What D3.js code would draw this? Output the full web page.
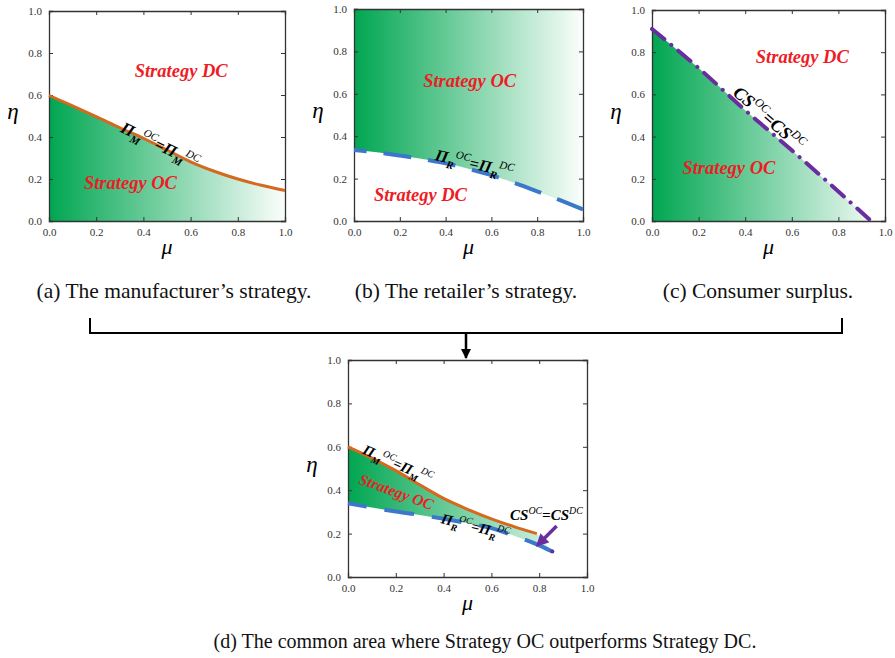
<!DOCTYPE html>
<html>
<head>
<meta charset="utf-8">
<script src="https://cdn.jsdelivr.net/npm/d3@7"></script>
<style>
  body { margin: 0; background: #fff; }
  text { font-family: "Liberation Serif", "Times New Roman", serif; }
</style>
</head>
<body>
<div id="chart"></div>
<script>
// values
const ticks = [0, 0.2, 0.4, 0.6, 0.8, 1.0];

// (a) manufacturer threshold
const muA = [0, 0.1, 0.2, 0.3, 0.4, 0.5, 0.6, 0.7, 0.8, 0.9, 1.0];
const etaM = [0.598, 0.548, 0.497, 0.444, 0.394, 0.338, 0.282, 0.237, 0.200, 0.170, 0.145];

// (b) retailer threshold
const muB = [0, 0.1, 0.2, 0.3, 0.4, 0.5, 0.6, 0.7, 0.8, 0.9, 1.0];
const etaR = [0.335, 0.324, 0.309, 0.292, 0.272, 0.246, 0.216, 0.180, 0.140, 0.098, 0.055];

// (c) consumer surplus threshold
const muC = [0, 0.2, 0.4, 0.6, 0.8, 0.94];
const etaCS = [0.91, 0.725, 0.525, 0.335, 0.14, 0];

// (d) common area
const muDM = [0, 0.1, 0.2, 0.3, 0.4, 0.5, 0.6, 0.7, 0.79];
const etaDM = [0.600, 0.548, 0.490, 0.425, 0.362, 0.312, 0.268, 0.230, 0.200];
const muDR = [0, 0.1, 0.2, 0.3, 0.4, 0.5, 0.6, 0.7, 0.8, 0.855];
const etaDR = [0.340, 0.320, 0.302, 0.286, 0.268, 0.248, 0.225, 0.188, 0.146, 0.117];
const csArrow = [[0.873, 0.235], [0.805, 0.160]];

const captions = [
  "(a) The manufacturer\u2019s strategy.",
  "(b) The retailer\u2019s strategy.",
  "(c) Consumer surplus.",
  "(d) The common area where Strategy OC outperforms Strategy DC."
];

const GREEN = "#00a651", ORANGE = "#d4691f", BLUE = "#3b78cc", PURPLE = "#6a2d9f", RED = "#ee1c25";

const svg = d3.select("#chart").append("svg")
    .attr("width", 895)
    .attr("height", 658);

const defs = svg.append("defs");

function makePanel(id, box) {
  const x = d3.scaleLinear().domain([0, 1]).range([box.left, box.right]);
  const y = d3.scaleLinear().domain([0, 1]).range([box.bottom, box.top]);

  const grad = defs.append("linearGradient")
      .attr("id", "grad-" + id)
      .attr("gradientUnits", "userSpaceOnUse")
      .attr("x1", x(0)).attr("x2", x(1))
      .attr("y1", 0).attr("y2", 0);
  grad.append("stop").attr("offset", "0%").attr("stop-color", GREEN);
  grad.append("stop").attr("offset", "100%").attr("stop-color", "#fbfefc");

  const g = svg.append("g").attr("class", "panel-" + id);
  defs.append("clipPath").attr("id", "clip-" + id)
    .append("rect")
      .attr("x", box.left).attr("y", box.top)
      .attr("width", box.right - box.left).attr("height", box.bottom - box.top);
  const plot = g.append("g").attr("clip-path", "url(#clip-" + id + ")");
  return { x, y, g, plot, box, fill: "url(#grad-" + id + ")" };
}

function frame(p) {
  const { x, y, g, box } = p;
  // inward ticks on all four sides
  g.append("g").attr("transform", "translate(0," + box.bottom + ")")
    .call(d3.axisBottom(x).tickValues(ticks).tickSize(-4).tickPadding(7).tickFormat(d3.format(".1f")));
  g.append("g").attr("transform", "translate(" + box.left + ",0)")
    .call(d3.axisLeft(y).tickValues(ticks).tickSize(-4).tickPadding(7).tickFormat(d3.format(".1f")));
  g.append("g").attr("transform", "translate(0," + box.top + ")")
    .call(d3.axisTop(x).tickValues(ticks).tickSize(-4).tickFormat(""));
  g.append("g").attr("transform", "translate(" + box.right + ",0)")
    .call(d3.axisRight(y).tickValues(ticks).tickSize(-4).tickFormat(""));
  g.selectAll(".domain").attr("stroke", "#333").attr("stroke-width", 1.3);
  g.selectAll(".tick line").attr("stroke", "#333");
  g.selectAll(".tick text")
    .attr("font-size", 11)
    .attr("fill", "#333");

  g.append("text")
    .attr("x", (box.left + box.right) / 2)
    .attr("y", box.bottom + 33)
    .attr("text-anchor", "middle")
    .attr("font-style", "italic")
    .attr("font-size", 22)
    .text("\u03bc");
  g.append("text")
    .attr("x", box.left - 36)
    .attr("y", (box.top + box.bottom) / 2 + 3)
    .attr("text-anchor", "middle")
    .attr("font-style", "italic")
    .attr("font-size", 23)
    .text("\u03b7");
}

// dashed line whose pattern ends on a full dash, as in the figure
function dashedCurve(p, pts, dash, gap, curve) {
  const path = p.g.append("path")
    .datum(pts)
    .attr("fill", "none")
    .attr("stroke", BLUE)
    .attr("stroke-width", 4)
    .attr("stroke-dasharray", dash + "," + gap)
    .attr("d", curve);
  const L = path.node().getTotalLength();
  const P = dash + gap;
  path.attr("stroke-dashoffset", (((dash - L) % P) + P) % P);
  return path;
}

function strategy(p, label, mx, my, size, angle) {
  p.g.append("text")
    .attr("transform", "translate(" + p.x(mx) + "," + p.y(my) + ") rotate(" + (angle || 0) + ")")
    .attr("text-anchor", "middle")
    .attr("font-weight", "bold")
    .attr("font-style", "italic")
    .attr("font-size", size)
    .attr("fill", RED)
    .text(label);
}

// parts: [text, kind] with kind main/sub/sup
function formula(p, parts, mx, my, size, angle) {
  const t = p.g.append("text")
    .attr("transform", "translate(" + p.x(mx) + "," + p.y(my) + ") rotate(" + angle + ")")
    .attr("text-anchor", "middle")
    .attr("font-style", "italic")
    .attr("fill", "#000");
  let cur = 0;
  parts.forEach(([s, kind]) => {
    const off = kind === "sub" ? size * 0.3 : kind === "sup" ? -size * 0.42 : 0;
    t.append("tspan")
      .attr("dy", off - cur)
      .attr("font-size", kind === "main" ? size : size * 0.66)
      .attr("font-weight", kind === "sup" ? "normal" : "bold")
      .text(s);
    cur = off;
  });
}

const PiM = [["\u03a0", "main"], ["M", "sub"], ["OC", "sup"], ["=\u03a0", "main"], ["M", "sub"], ["DC", "sup"]];
const PiR = [["\u03a0", "main"], ["R", "sub"], ["OC", "sup"], ["=\u03a0", "main"], ["R", "sub"], ["DC", "sup"]];
const CSeq = [["CS", "main"], ["OC", "sup"], ["=CS", "main"], ["DC", "sup"]];

// ---------- (a) ----------
{
  const p = makePanel("a", { left: 49, right: 285, top: 11, bottom: 221 });
  const pts = muA.map((m, i) => [m, etaM[i]]);
  p.plot.append("path")
    .datum(pts)
    .attr("fill", p.fill)
    .attr("d", d3.area().x(d => p.x(d[0])).y0(p.y(0)).y1(d => p.y(d[1])).curve(d3.curveMonotoneX));
  frame(p);
  p.g.append("path")
    .datum(pts)
    .attr("fill", "none")
    .attr("stroke", ORANGE)
    .attr("stroke-width", 3)
    .attr("d", d3.line().x(d => p.x(d[0])).y(d => p.y(d[1])).curve(d3.curveMonotoneX));
  strategy(p, "Strategy DC", 0.56, 0.686, 18.5);
  strategy(p, "Strategy OC", 0.345, 0.152, 18.5);
  formula(p, PiM, 0.46, 0.338, 16.5, 26);
}

// ---------- (b) ----------
{
  const p = makePanel("b", { left: 354, right: 583, top: 9, bottom: 221 });
  const pts = muB.map((m, i) => [m, etaR[i]]);
  p.plot.append("path")
    .datum(pts)
    .attr("fill", p.fill)
    .attr("d", d3.area().x(d => p.x(d[0])).y0(p.y(1)).y1(d => p.y(d[1])).curve(d3.curveMonotoneX));
  frame(p);
  dashedCurve(p, pts, 28, 17, d3.line().x(d => p.x(d[0])).y(d => p.y(d[1])).curve(d3.curveMonotoneX));
  strategy(p, "Strategy OC", 0.505, 0.63, 18.5);
  strategy(p, "Strategy DC", 0.29, 0.096, 18.5);
  formula(p, PiR, 0.52, 0.245, 16.5, 13);
}

// ---------- (c) ----------
{
  const p = makePanel("c", { left: 652, right: 885, top: 10, bottom: 221 });
  const pts = muC.map((m, i) => [m, etaCS[i]]);
  p.plot.append("path")
    .datum(pts)
    .attr("fill", p.fill)
    .attr("d", d3.area().x(d => p.x(d[0])).y0(p.y(0)).y1(d => p.y(d[1])).curve(d3.curveMonotoneX));
  frame(p);
  p.g.append("path")
    .datum(pts)
    .attr("fill", "none")
    .attr("stroke", PURPLE)
    .attr("stroke-width", 4)
    .attr("stroke-linecap", "round")
    .attr("stroke-dasharray", "16,9,0.1,9")
    .attr("d", d3.line().x(d => p.x(d[0])).y(d => p.y(d[1])).curve(d3.curveMonotoneX));
  strategy(p, "Strategy DC", 0.645, 0.75, 18.5);
  strategy(p, "Strategy OC", 0.33, 0.225, 18.5);
  formula(p, CSeq, 0.485, 0.465, 18, 41);
}

// ---------- (d) ----------
{
  const p = makePanel("d", { left: 348, right: 587, top: 360, bottom: 577 });
  const top = muDM.map((m, i) => [m, etaDM[i]]);
  const bot = muDR.map((m, i) => [m, etaDR[i]]);
  const curve = d3.line().x(d => p.x(d[0])).y(d => p.y(d[1])).curve(d3.curveMonotoneX);
  // region between orange and blue, closed by the CS boundary
  const region = curve(top) + "L" + curve(bot.slice().reverse()).slice(1) + "Z";
  p.plot.append("path")
    .attr("fill", p.fill)
    .attr("d", region);
  frame(p);
  p.g.append("path")
    .datum(top)
    .attr("fill", "none")
    .attr("stroke", ORANGE)
    .attr("stroke-width", 3)
    .attr("d", curve);
  dashedCurve(p, bot, 30, 18, curve);
  p.g.append("circle")
    .attr("cx", p.x(muDR[muDR.length - 1]))
    .attr("cy", p.y(etaDR[etaDR.length - 1]))
    .attr("r", 2)
    .attr("fill", PURPLE);

  defs.append("marker")
      .attr("id", "head-purple")
      .attr("viewBox", "0 0 10 10")
      .attr("refX", 5).attr("refY", 5)
      .attr("markerWidth", 3.6).attr("markerHeight", 3.6)
      .attr("orient", "auto")
    .append("path").attr("d", "M0,0L10,5L0,10Z").attr("fill", PURPLE);
  p.g.append("line")
    .attr("x1", p.x(csArrow[0][0])).attr("y1", p.y(csArrow[0][1]))
    .attr("x2", p.x(csArrow[1][0])).attr("y2", p.y(csArrow[1][1]))
    .attr("stroke", PURPLE)
    .attr("stroke-width", 3.5)
    .attr("marker-end", "url(#head-purple)");

  formula(p, PiM, 0.2, 0.5, 14.5, 24);
  strategy(p, "Strategy OC", 0.195, 0.37, 15.5, 20);
  formula(p, PiR, 0.528, 0.21, 14.5, 14);
  formula(p, CSeq, 0.83, 0.262, 15, 0);
}

// captions
const capPos = [[174, 298], [466, 298], [758, 298], [485, 648]];
const capSize = [21.5, 21.5, 21.5, 20];
svg.selectAll(".caption")
  .data(captions)
  .enter().append("text")
    .attr("class", "caption")
    .attr("x", (d, i) => capPos[i][0])
    .attr("y", (d, i) => capPos[i][1])
    .attr("text-anchor", "middle")
    .attr("font-size", (d, i) => capSize[i])
    .attr("fill", "#111")
    .text(d => d);

// bracket joining (a)-(c) into (d)
defs.append("marker")
    .attr("id", "head-black")
    .attr("viewBox", "0 0 10 10")
    .attr("refX", 9).attr("refY", 5)
    .attr("markerWidth", 4).attr("markerHeight", 4)
    .attr("orient", "auto")
  .append("path").attr("d", "M0,0L10,5L0,10Z").attr("fill", "#000");
svg.append("path")
  .attr("d", "M90,318V333H842V318")
  .attr("fill", "none")
  .attr("stroke", "#000")
  .attr("stroke-width", 2);
svg.append("line")
  .attr("x1", 466).attr("y1", 333)
  .attr("x2", 466).attr("y2", 358)
  .attr("stroke", "#000")
  .attr("stroke-width", 2.5)
  .attr("marker-end", "url(#head-black)");
</script>
</body>
</html>
